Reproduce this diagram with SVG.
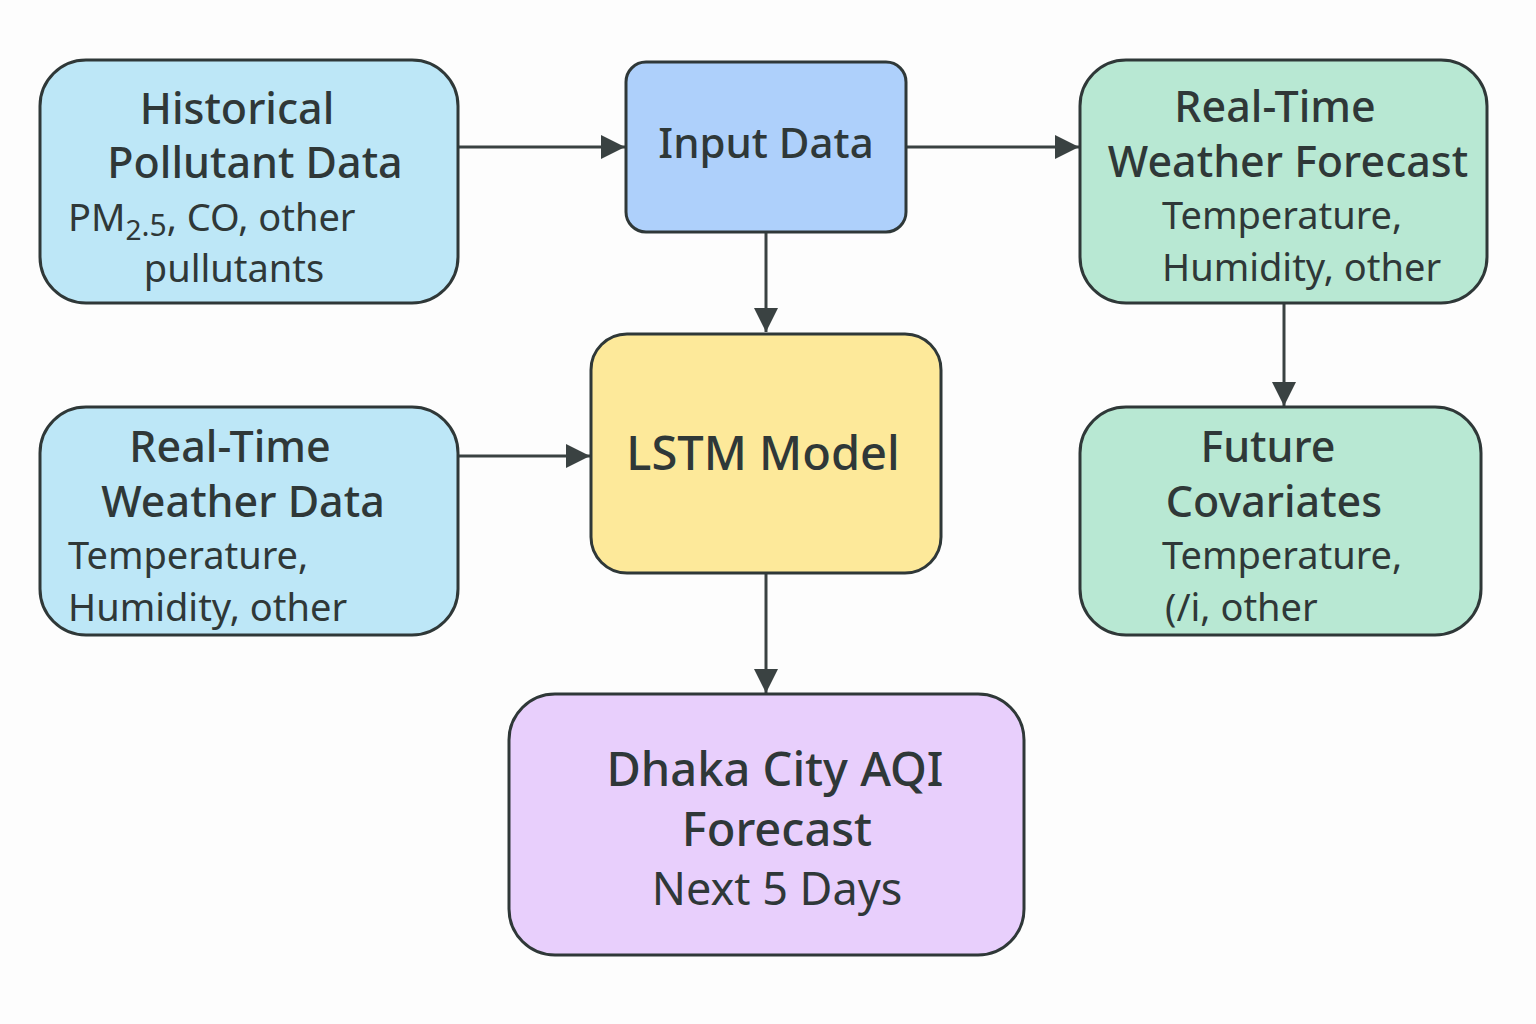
<svg xmlns="http://www.w3.org/2000/svg" width="1536" height="1024" viewBox="0 0 1536 1024">
<defs>
<style>
.box{stroke:#2f3838;stroke-width:3}
.t{font-family:"Noto Sans","Open Sans",sans-serif;fill:#2f3838;font-weight:500;font-size:43px}
.s{font-family:"Noto Sans","Open Sans",sans-serif;fill:#2f3838;font-size:38px}
.c{stroke:#3a4242;stroke-width:3;fill:none;marker-end:url(#ah)}
</style>
<marker id="ah" viewBox="0 0 10 10" refX="10" refY="5" markerWidth="24" markerHeight="24" markerUnits="userSpaceOnUse" orient="auto">
<path d="M0,0 L10,5 L0,10 z" fill="#3a4242"/>
</marker>
</defs>
<rect width="1536" height="1024" fill="#fdfdfd"/>
<g id="connectors">
<line x1="458" y1="147" x2="625" y2="147" class="c"/>
<line x1="906" y1="147" x2="1079" y2="147" class="c"/>
<line x1="766" y1="232" x2="766" y2="332" class="c"/>
<line x1="458" y1="456" x2="590" y2="456" class="c"/>
<line x1="1284" y1="303" x2="1284" y2="406" class="c"/>
<line x1="766" y1="573" x2="766" y2="693" class="c"/>
</g>
<g id="historical">
<rect x="40" y="60" width="418" height="243" rx="46" fill="#bde7f7" class="box"/>
<text x="237" y="124" text-anchor="middle" class="t">Historical</text>
<text x="255" y="178" text-anchor="middle" class="t">Pollutant Data</text>
<text x="68" y="231" class="s">PM<tspan font-size="28" dy="9">2</tspan><tspan font-size="30" dy="-4">.5</tspan><tspan dy="-5">, CO, other</tspan></text>
<text x="234" y="282" text-anchor="middle" class="s">pullutants</text>
</g>
<g id="input">
<rect x="626" y="62" width="280" height="170" rx="20" fill="#aed0fb" class="box"/>
<text x="766" y="158" text-anchor="middle" class="t" style="font-size:42px">Input Data</text>
</g>
<g id="forecast-weather">
<rect x="1080" y="60" width="407" height="243" rx="46" fill="#b8e8d3" class="box"/>
<text x="1275" y="122" text-anchor="middle" class="t">Real-Time</text>
<text x="1288" y="177" text-anchor="middle" class="t">Weather Forecast</text>
<text x="1162" y="229" class="s">Temperature,</text>
<text x="1162" y="281" class="s">Humidity, other</text>
</g>
<g id="realtime-weather">
<rect x="40" y="407" width="418" height="228" rx="46" fill="#bde7f7" class="box"/>
<text x="230" y="462" text-anchor="middle" class="t">Real-Time</text>
<text x="243" y="517" text-anchor="middle" class="t">Weather Data</text>
<text x="68" y="569" class="s">Temperature,</text>
<text x="68" y="621" class="s">Humidity, other</text>
</g>
<g id="lstm">
<rect x="591" y="334" width="350" height="239" rx="36" fill="#fde99a" class="box"/>
<text x="763" y="470" text-anchor="middle" class="t" style="font-size:47px">LSTM Model</text>
</g>
<g id="future">
<rect x="1080" y="407" width="401" height="228" rx="46" fill="#b8e8d3" class="box"/>
<text x="1268" y="462" text-anchor="middle" class="t">Future</text>
<text x="1274" y="517" text-anchor="middle" class="t">Covariates</text>
<text x="1162" y="569" class="s">Temperature,</text>
<text x="1165" y="621" class="s">(/i, other</text>
</g>
<g id="dhaka">
<rect x="509" y="694" width="515" height="261" rx="46" fill="#e8cffc" class="box"/>
<text x="775" y="786" text-anchor="middle" class="t" style="font-size:47px">Dhaka City AQI</text>
<text x="777" y="846" text-anchor="middle" class="t" style="font-size:47px">Forecast</text>
<text x="777" y="905" text-anchor="middle" class="s" style="font-size:45px">Next 5 Days</text>
</g>
</svg>
